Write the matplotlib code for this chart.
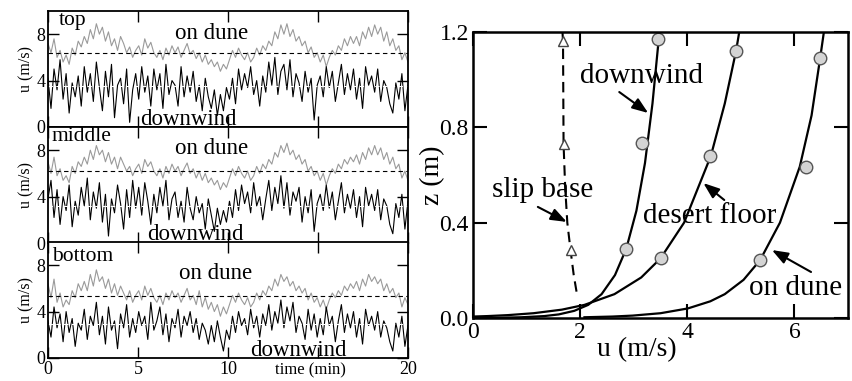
import numpy as np
import matplotlib.pyplot as plt

plt.rcParams['font.family'] = ['Liberation Serif', 'DejaVu Serif']

# time series (m/s), 6 samples per minute
top_dune = [7.2, 6.4, 7.6, 6.0, 6.6, 5.6, 6.2, 5.4, 6.8, 6.2, 7.4, 6.9,
            7.8, 7.2, 8.4, 7.6, 8.9, 8.0, 8.6, 7.4, 8.2, 7.0, 7.6, 6.6,
            7.8, 7.2, 6.4, 6.9, 6.0, 6.6, 7.0, 6.2, 7.6, 6.8, 7.3, 6.4,
            6.0, 6.6, 5.8, 6.8, 6.2, 7.0, 6.4, 6.9, 6.0, 6.6, 7.2, 6.3,
            6.6, 5.9, 6.4, 5.6, 6.2, 5.4, 5.8, 5.2, 5.6, 4.8, 5.4, 5.0,
            5.8, 6.6, 6.0, 6.8, 6.2, 5.8, 6.4, 5.6, 6.0, 6.8, 6.2, 7.0,
            6.6, 7.4, 7.0, 8.2, 7.6, 8.8, 8.0, 8.9, 7.8, 8.4, 7.4, 7.8,
            7.0, 7.4, 6.4, 6.9, 6.0, 6.4, 5.6, 6.2, 5.2, 6.0, 6.6, 6.2,
            7.0, 6.6, 7.6, 7.0, 7.8, 7.2, 7.8, 7.0, 8.2, 7.6, 8.6, 7.8,
            8.8, 8.0, 8.6, 7.4, 8.2, 7.0, 7.6, 6.6, 7.0, 5.8, 6.4, 5.6]
top_down = [4.2, 1.6, 5.0, 3.2, 5.8, 2.4, 4.6, 1.2, 3.8, 2.6, 4.4, 1.8,
            5.2, 3.0, 4.6, 2.2, 5.6, 3.4, 1.4, 4.8, 2.6, 5.4, 0.8, 3.6,
            4.2, 2.0, 5.0, 0.4, 3.2, 4.6, 2.4, 5.2, 3.0, 4.4, 1.8, 5.0,
            3.2, 4.6, 1.6, 5.4, 2.8, 4.0, 3.6, 1.8, 5.2, 2.6, 4.4, 3.0,
            4.8, 2.2, 3.6, 1.4, 4.2, 2.6, 1.6, 3.2, 1.0, 2.8, 1.4, 3.4,
            2.4, 4.2, 2.0, 5.0, 3.2, 4.6, 3.4, 5.2, 2.8, 4.0, 1.8, 4.4,
            3.0, 5.6, 3.6, 6.0, 2.8, 4.8, 5.4, 3.2, 5.8, 2.6, 4.6, 3.8,
            2.2, 4.8, 3.0, 4.2, 0.6, 3.6, 4.4, 2.6, 5.2, 3.4, 4.8, 2.2,
            3.8, 5.4, 2.8, 4.6, 3.2, 5.0, 2.4, 4.2, 1.6, 5.2, 3.6, 4.4,
            3.0, 5.0, 2.2, 4.0, 3.4, 2.0, 1.2, 3.8, 2.4, 4.6, 1.4, 3.6]
mid_dune = [7.0, 6.0, 7.4, 5.8, 6.4, 5.4, 5.8, 5.2, 6.6, 6.0, 7.0, 6.6,
            7.4, 6.8, 8.0, 7.2, 8.4, 7.6, 8.0, 7.0, 7.8, 6.8, 7.4, 6.4,
            7.4, 6.8, 6.2, 6.6, 5.8, 6.4, 6.8, 6.0, 7.2, 6.6, 7.0, 6.2,
            5.8, 6.4, 5.6, 6.6, 6.0, 6.8, 6.2, 6.6, 5.8, 6.4, 6.9, 6.0,
            6.4, 5.6, 6.2, 5.4, 6.0, 5.2, 5.6, 5.0, 5.4, 4.6, 5.2, 4.8,
            5.6, 6.4, 5.8, 6.6, 6.0, 5.6, 6.2, 5.4, 5.8, 6.6, 6.0, 6.8,
            6.4, 7.2, 6.8, 7.8, 7.4, 8.4, 7.8, 8.6, 7.6, 8.0, 7.2, 7.6,
            6.8, 7.2, 6.2, 6.6, 5.8, 6.2, 5.4, 6.0, 5.0, 5.8, 6.4, 6.0,
            6.8, 6.4, 7.2, 6.8, 7.4, 7.0, 7.6, 6.8, 7.8, 7.2, 8.2, 7.6,
            8.4, 7.6, 8.2, 7.2, 7.8, 6.8, 7.4, 6.4, 6.8, 5.6, 6.2, 5.4]
mid_down = [3.8, 5.4, 2.2, 4.6, 1.6, 4.0, 2.8, 5.0, 1.4, 3.6, 2.4, 4.8,
            3.2, 5.6, 2.0, 4.4, 3.0, 5.2, 1.8, 4.2, 0.6, 3.8, 2.6, 5.0,
            3.4, 1.2, 4.6, 2.2, 5.4, 3.0, 4.8, 2.4, 5.2, 3.6, 1.6, 4.2,
            2.6, 4.8, 3.2, 5.4, 2.0, 3.8, 4.4, 2.2, 3.6, 1.8, 4.8, 3.0,
            2.0, 4.0, 2.6, 3.4, 1.2, 3.8, 2.4, 1.0, 3.0, 1.6, 2.8, 1.8,
            3.6, 2.2, 4.6, 2.8, 5.0, 3.4, 4.4, 2.6, 5.2, 3.2, 4.0, 2.0,
            3.8, 5.4, 2.8, 4.8, 3.4, 5.8, 3.0, 5.2, 2.4, 4.4, 3.6, 4.8,
            1.8, 4.0, 2.6, 4.6, 1.0, 3.4, 4.2, 2.8, 5.0, 3.0, 4.4, 2.0,
            3.6, 5.2, 2.6, 4.2, 3.0, 4.6, 2.2, 4.0, 1.4, 4.8, 3.2, 4.2,
            2.8, 4.6, 2.0, 3.8, 3.2, 1.6, 0.8, 3.4, 2.2, 4.2, 1.2, 3.6]
bot_dune = [6.4, 5.2, 6.8, 4.8, 5.6, 4.4, 5.0, 4.6, 5.8, 5.2, 6.4, 5.8,
            6.6, 5.8, 7.2, 6.2, 7.6, 6.6, 7.0, 6.0, 6.8, 5.6, 6.4, 5.4,
            6.2, 5.6, 5.0, 5.8, 4.8, 5.4, 5.8, 5.0, 6.2, 5.4, 6.0, 5.2,
            4.8, 5.4, 4.6, 5.6, 5.0, 5.8, 5.2, 5.6, 4.8, 5.4, 6.0, 5.0,
            5.4, 4.6, 5.8, 4.4, 5.2, 4.2, 4.8, 4.0, 4.6, 3.6, 4.4, 3.8,
            4.6, 5.4, 4.8, 5.6, 5.0, 4.6, 5.2, 4.4, 4.8, 5.6, 5.0, 5.8,
            5.4, 6.2, 5.8, 6.8, 6.2, 7.2, 6.6, 7.0, 6.2, 6.6, 5.8, 6.2,
            5.6, 6.0, 5.0, 5.6, 4.8, 5.2, 4.4, 5.0, 4.2, 5.0, 5.6, 5.2,
            5.8, 5.4, 6.2, 5.8, 6.4, 6.0, 6.6, 5.8, 6.8, 6.2, 7.2, 6.6,
            7.0, 6.4, 6.8, 5.8, 6.4, 5.6, 6.0, 5.2, 5.6, 4.4, 5.2, 4.6]
bot_down = [3.2, 1.8, 4.4, 2.6, 3.8, 1.4, 4.0, 2.2, 3.4, 1.0, 3.0, 2.4,
            4.2, 1.6, 3.6, 2.8, 4.8, 2.0, 3.6, 1.2, 4.4, 2.4, 3.2, 0.8,
            3.8, 2.6, 4.6, 1.8, 3.4, 2.2, 4.0, 2.8, 3.6, 1.6, 4.8, 2.4,
            3.2, 4.4, 2.0, 3.8, 1.4, 3.4, 2.6, 4.2, 1.8, 3.6, 2.8, 4.0,
            2.2, 3.4, 1.6, 3.0, 2.4, 1.2, 2.8, 1.4, 3.2, 1.8, 0.6, 2.4,
            1.6, 3.6, 2.2, 4.0, 2.8, 3.4, 2.0, 4.2, 2.6, 3.6, 1.8, 3.8,
            2.8, 4.6, 2.4, 4.0, 3.0, 5.0, 2.6, 4.4, 3.2, 4.8, 2.2, 3.6,
            3.0, 1.6, 4.2, 2.4, 3.8, 1.8, 3.4, 2.0, 4.4, 2.8, 3.6, 1.4,
            3.2, 4.6, 2.2, 3.8, 2.6, 4.0, 1.8, 3.4, 1.2, 4.2, 2.8, 3.6,
            2.4, 4.0, 1.8, 3.2, 2.6, 1.4, 0.6, 3.0, 1.8, 3.6, 1.0, 2.8]
dune_mean = [6.4, 6.2, 5.3]
down_mean = [3.5, 3.2, 2.9]
panel_names = ['top', 'middle', 'bottom']

# right panel: fitted profiles and measurements (u in m/s, z in m)
down_u = [0.03, 0.42, 0.9, 1.33, 1.6, 1.89, 2.15, 2.40, 2.65, 2.86, 3.05, 3.21, 3.35, 3.48]
down_z = [0.0004, 0.001, 0.003, 0.008, 0.015, 0.03, 0.055, 0.1, 0.18, 0.29, 0.45, 0.65, 0.9, 1.2]
floor_u = [0.0, 0.27, 0.65, 1.13, 1.66, 2.08, 2.64, 3.14, 3.50, 3.94, 4.44, 4.70, 4.91, 4.97]
floor_z = [0.006, 0.008, 0.012, 0.02, 0.035, 0.055, 0.1, 0.17, 0.25, 0.4, 0.68, 0.9, 1.12, 1.2]
dune_u = [2.08, 2.60, 2.98, 3.50, 4.01, 4.43, 4.70, 5.05, 5.36, 5.73, 6.10, 6.32, 6.48, 6.55]
dune_z = [0.003, 0.006, 0.01, 0.02, 0.04, 0.07, 0.1, 0.16, 0.243, 0.4, 0.635, 0.85, 1.09, 1.2]
slip_u = [1.67, 1.68, 1.69, 1.72, 1.76, 1.82, 1.88, 1.94]
slip_z = [1.2, 1.16, 0.73, 0.55, 0.4, 0.285, 0.18, 0.1]

obs_down_u = [2.86, 3.16, 3.46]
obs_down_z = [0.29, 0.734, 1.17]
obs_floor_u = [3.50, 4.43, 4.91]
obs_floor_z = [0.25, 0.68, 1.12]
obs_dune_u = [5.36, 6.21, 6.48]
obs_dune_z = [0.243, 0.635, 1.09]
obs_slip_u = [1.68, 1.69, 1.82]
obs_slip_z = [1.16, 0.73, 0.285]

fig = plt.figure(figsize=(8.52, 3.81), dpi=100)

series = [(top_dune, top_down), (mid_dune, mid_down), (bot_dune, bot_down)]
bottoms = [0.6667, 0.3622, 0.0604]
dune_txt = [(9.1, 7.6), (9.1, 7.7), (9.3, 6.8)]
down_txt = [(7.8, 0.15), (8.2, 0.3), (13.9, 0.2)]
for i in range(3):
    ax = fig.add_axes([0.0563, bottoms[i], 0.4225, 0.3045])
    g, b = series[i]
    t = np.linspace(0, 20, len(g))
    ax.plot(t, g, color='#9a9a9a', lw=0.8)
    ax.plot(t, b, color='black', lw=0.8)
    ax.axhline(dune_mean[i], color='black', lw=0.8, ls=(0, (4, 3)))
    ax.axhline(down_mean[i], color='white', lw=0.8, ls=(0, (4, 3)))
    ax.set_xlim(0, 20)
    ax.set_ylim(0, 10)
    ax.set_xticks([0, 5, 10, 15, 20])
    ax.set_yticks([0, 4, 8])
    ax.tick_params(direction='in', top=True, right=True, length=8, width=1,
                   labelsize=13, pad=2)
    for s in ax.spines.values():
        s.set_linewidth(1.3)
    ax.set_ylabel('u (m/s)', fontsize=11.5, labelpad=1)
    if i < 2:
        ax.set_xticklabels([])
    else:
        ax.set_xticklabels(['0', '5', '10', '', '20'])
        ax.text(14.6, -1.05, 'time (min)', fontsize=12, ha='center', va='center')
    ax.text(0.2 if i else 0.6, 10.0 if i < 2 else 9.6, panel_names[i],
            fontsize=15.5, ha='left', va='top')
    ax.text(*dune_txt[i], 'on dune', fontsize=16.5, ha='center', va='baseline')
    ax.text(*down_txt[i], 'downwind', fontsize=16.5, ha='center', va='baseline')

# right panel
ax = fig.add_axes([0.5552, 0.1654, 0.4401, 0.7507])
for u, z in [(down_u, down_z), (floor_u, floor_z), (dune_u, dune_z)]:
    ax.plot(u, z, color='black', lw=1.6)
ax.plot(slip_u, slip_z, color='black', lw=1.5, ls=(0, (5, 3)))
for u, z in [(obs_down_u, obs_down_z), (obs_floor_u, obs_floor_z), (obs_dune_u, obs_dune_z)]:
    ax.plot(u, z, 'o', ms=9, mfc='#d4d4d4', mec='#555555', mew=1)
ax.plot(obs_slip_u, obs_slip_z, '^', ms=7, mfc='white', mec='#444444', mew=1)

ax.set_xlim(0, 7)
ax.set_ylim(0, 1.2)
ax.set_xticks([0, 2, 4, 6])
ax.set_yticks([0.0, 0.4, 0.8, 1.2])
ax.set_yticklabels(['0.0', '0.4', '0.8', '1.2'])
ax.tick_params(direction='in', top=True, right=True, length=10, width=1.5,
               labelsize=17, pad=3)
for s in ax.spines.values():
    s.set_linewidth(1.8)
ax.set_ylabel('z (m)', fontsize=20)
ax.yaxis.set_label_coords(-0.075, 0.5)
ax.text(3.05, -0.08, 'u (m/s)', fontsize=20, ha='center', va='top')

arrow = dict(arrowstyle='-|>,head_length=0.8,head_width=0.3', color='black',
             lw=1.5, mutation_scale=12, shrinkA=0, shrinkB=0)
for label, head, tail, pos in [
        ('downwind', (3.27, 0.86), (2.73, 0.948), (3.14, 1.015)),
        ('slip base', (1.75, 0.403), (1.21, 0.466), (1.30, 0.537)),
        ('desert floor', (4.30, 0.566), (4.69, 0.495), (4.41, 0.428)),
        ('on dune', (5.58, 0.285), (6.31, 0.193), (6.03, 0.126))]:
    ax.annotate('', xy=head, xytext=tail, arrowprops=arrow)
    ax.text(pos[0], pos[1], label, fontsize=21, ha='center', va='center')

fig.savefig('out.png', dpi=100)
